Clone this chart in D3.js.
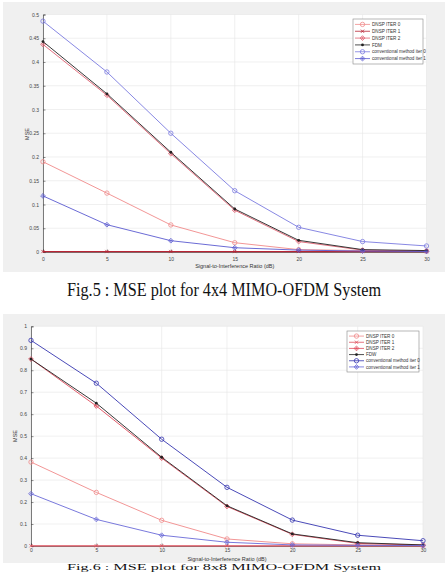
<!DOCTYPE html>
<html><head><meta charset="utf-8">
<script src="https://cdn.jsdelivr.net/npm/d3@7"></script>
<style>body{margin:0;background:#fff}svg{display:block}</style>
</head><body>
<svg id="c" width="448" height="572"></svg>
<script>
const sir = [0, 5, 10, 15, 20, 25, 30];
const seriesNames4 = ["DNSP ITER 0", "DNSP ITER 1", "DNSP ITER 2", "FDM", "conventional method iter 0", "conventional method iter 1"];
const seriesNames8 = ["DNSP ITER 0", "DNSP ITER 1", "DNSP ITER 2", "FDW", "conventional method iter 0", "conventional method iter 1"];
// 4x4
const dnsp0_4 = [0.190, 0.124, 0.057, 0.0196, 0.005, 0.003, 0.002];
const dnsp1_4 = [0.001, 0.001, 0.001, 0.001, 0.001, 0.001, 0.001];
const dnsp2_4 = [0.437, 0.330, 0.207, 0.088, 0.022, 0.004, 0.002];
const fdm_4   = [0.443, 0.333, 0.210, 0.0905, 0.0246, 0.005, 0.003];
const conv0_4 = [0.486, 0.379, 0.250, 0.129, 0.052, 0.022, 0.0127];
const conv1_4 = [0.118, 0.0575, 0.0238, 0.009, 0.004, 0.002, 0.001];
// 8x8
const dnsp0_8 = [0.382, 0.244, 0.117, 0.032, 0.010, 0.005, 0.003];
const dnsp1_8 = [0.001, 0.001, 0.001, 0.001, 0.001, 0.001, 0.001];
const dnsp2_8 = [0.851, 0.637, 0.400, 0.180, 0.053, 0.012, 0.004];
const fdw_8   = [0.851, 0.650, 0.404, 0.183, 0.055, 0.015, 0.005];
const conv0_8 = [0.936, 0.741, 0.486, 0.267, 0.118, 0.049, 0.024];
const conv1_8 = [0.238, 0.121, 0.049, 0.017, 0.005, 0.003, 0.002];
const yTicks4 = [0, 0.05, 0.1, 0.15, 0.2, 0.25, 0.3, 0.35, 0.4, 0.45, 0.5];
const yTicks8 = [0, 0.1, 0.2, 0.3, 0.4, 0.5, 0.6, 0.7, 0.8, 0.9, 1];
const xTicks = [0, 5, 10, 15, 20, 25, 30];
const captions = ["Fig.5 : MSE plot for 4x4 MIMO-OFDM System", "Fig.6 : MSE plot for 8x8 MIMO-OFDM System"];

const styles = [
  {color:"#f08a8a", marker:"circle"},
  {color:"#b82535", marker:"x"},
  {color:"#e06070", marker:"diamond"},
  {color:"#222222", marker:"dot"},
  {color:"#7b7be0", marker:"circle"},
  {color:"#5a5ad0", marker:"diamond"}
];
const styles8 = [
  {color:"#f08a8a", marker:"circle"},
  {color:"#e0505e", marker:"x"},
  {color:"#e04a5a", marker:"diamond"},
  {color:"#222222", marker:"dot"},
  {color:"#3535b0", marker:"circle"},
  {color:"#6a6ad8", marker:"diamond"}
];

const svg = d3.select("#c");

function drawMarker(g, type, x, y, color){
  if(type==="circle"){
    g.append("circle").attr("cx",x).attr("cy",y).attr("r",2.2).attr("fill","none").attr("stroke",color).attr("stroke-width",0.8);
  } else if(type==="x"){
    g.append("path").attr("d",`M${x-1.6},${y-1.6}L${x+1.6},${y+1.6}M${x-1.6},${y+1.6}L${x+1.6},${y-1.6}`).attr("stroke",color).attr("stroke-width",0.8);
  } else if(type==="diamond"){
    g.append("path").attr("d",`M${x},${y-2.4}L${x+2.4},${y}L${x},${y+2.4}L${x-2.4},${y}Z`).attr("fill","none").attr("stroke",color).attr("stroke-width",0.8);
    g.append("path").attr("d",`M${x-1.4},${y}L${x+1.4},${y}M${x},${y-1.4}L${x},${y+1.4}`).attr("stroke",color).attr("stroke-width",0.6);
  } else {
    g.append("circle").attr("cx",x).attr("cy",y).attr("r",1.4).attr("fill",color);
  }
}

function chart(cfg){
  const g = svg.append("g");
  g.append("rect").attr("x",cfg.bg[0]).attr("y",cfg.bg[1]).attr("width",cfg.bg[2]).attr("height",cfg.bg[3]).attr("fill","#f0f0f0");
  const x = d3.scaleLinear().domain([0,30]).range([cfg.left, cfg.right]);
  const y = d3.scaleLinear().domain([0,cfg.ymax]).range([cfg.bottom, cfg.top]);
  g.append("rect").attr("x",cfg.left).attr("y",cfg.top).attr("width",cfg.right-cfg.left).attr("height",cfg.bottom-cfg.top).attr("fill","#fff");
  // grid
  g.append("g").selectAll("line").data(cfg.yTicks).join("line")
    .attr("x1",cfg.left).attr("x2",cfg.right).attr("y1",d=>y(d)).attr("y2",d=>y(d)).attr("stroke","#e6e6e6").attr("stroke-width",0.6);
  g.append("g").selectAll("line").data(xTicks).join("line")
    .attr("y1",cfg.top).attr("y2",cfg.bottom).attr("x1",d=>x(d)).attr("x2",d=>x(d)).attr("stroke","#e6e6e6").attr("stroke-width",0.6);
  // axes
  const ax = g.append("g").attr("transform",`translate(0,${cfg.bottom})`)
    .call(d3.axisBottom(x).tickValues(xTicks).tickSize(-2.5).tickPadding(cfg.xPad).tickFormat(d3.format("d")));
  const ay = g.append("g").attr("transform",`translate(${cfg.left},0)`)
    .call(d3.axisLeft(y).tickValues(cfg.yTicks).tickSize(-2.5).tickPadding(4).tickFormat(d=>String(d)));
  [ax,ay].forEach(a=>{
    a.select(".domain").attr("stroke","#444").attr("stroke-width",0.7);
    a.selectAll(".tick line").attr("stroke","#444").attr("stroke-width",0.6);
    a.selectAll("text").attr("font-size",5).attr("fill","#444").attr("font-family","Liberation Sans, Arial, sans-serif");
  });
  // lines
  const line = d3.line().x((d,i)=>x(sir[i])).y(d=>y(d));
  cfg.series.forEach((s,k)=>{
    const st = cfg.styles[k];
    g.append("path").datum(s).attr("d",line).attr("fill","none").attr("stroke",st.color).attr("stroke-width",k===1?1.3:0.9);
    s.forEach((v,i)=>drawMarker(g, st.marker, x(sir[i]), y(v), st.color));
  });
  // labels
  g.append("text").attr("x",(cfg.left+cfg.right)/2).attr("y",cfg.bottom+cfg.xlabOff).attr("text-anchor","middle")
    .attr("font-size",5.5).attr("fill","#333").attr("font-family","Liberation Sans, Arial, sans-serif").text("Signal-to-Interference Ratio (dB)");
  g.append("text").attr("transform",`translate(${cfg.ylabX},${cfg.ylabY}) rotate(-90)`).attr("text-anchor","middle")
    .attr("font-size",5.5).attr("fill","#333").attr("font-family","Liberation Sans, Arial, sans-serif").text("MSE");
  // legend
  const L = cfg.legend;
  const lg = g.append("g");
  lg.append("rect").attr("x",L[0]).attr("y",L[1]).attr("width",L[2]).attr("height",L[3]).attr("fill","#fff").attr("stroke","#888").attr("stroke-width",0.6);
  const step = (L[3]-4)/6;
  cfg.names.forEach((n,k)=>{
    const st = cfg.styles[k];
    const yy = L[1]+2+step*(k+0.5);
    lg.append("line").attr("x1",L[0]+2).attr("x2",L[0]+17).attr("y1",yy).attr("y2",yy).attr("stroke",st.color).attr("stroke-width",0.8);
    drawMarker(lg, st.marker, L[0]+9.5, yy, st.color);
    lg.append("text").attr("x",L[0]+19).attr("y",yy+1.6).attr("font-size",4.6).attr("fill","#333")
      .attr("font-family","Liberation Sans, Arial, sans-serif").text(n);
  });
  // caption
  g.append("text").attr("x",cfg.capX).attr("y",cfg.capY).attr("font-size",cfg.capSize).attr("fill","#111")
    .attr("font-family","Liberation Serif, Times New Roman, serif").attr("textLength",cfg.capW).attr("lengthAdjust","spacingAndGlyphs").text(cfg.caption);
}

chart({bg:[3,2,442,270], left:43, right:426.5, top:14.5, bottom:252, ymax:0.5, yTicks:yTicks4,
  series:[dnsp0_4,dnsp1_4,dnsp2_4,fdm_4,conv0_4,conv1_4], styles:styles, names:seriesNames4,
  legend:[353,19,70,45], ylabX:29, ylabY:134, xPad:5, xlabOff:16, caption:captions[0], capX:67, capY:296, capW:314, capSize:19});
chart({bg:[3,314,442,249], left:31, right:423, top:326.3, bottom:546, ymax:1, yTicks:yTicks8,
  series:[dnsp0_8,dnsp1_8,dnsp2_8,fdw_8,conv0_8,conv1_8], styles:styles8, names:seriesNames8,
  legend:[347,331,72,41], ylabX:17, ylabY:436, xPad:2.5, xlabOff:15, caption:captions[1], capX:67, capY:570, capW:314, capSize:9});
</script>
</body></html>
